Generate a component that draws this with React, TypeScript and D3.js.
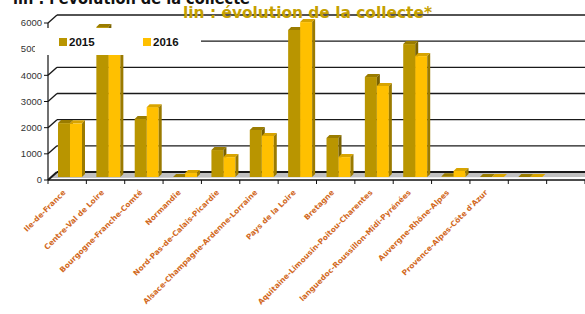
import * as d3 from 'd3'

// catégories (les deux dernières n'ont pas de libellé)
const regions = [
  'Ile-de-France',
  'Centre-Val de Loire',
  'Bourgogne-Franche-Comté',
  'Normandie',
  'Nord-Pas-de-Calais-Picardie',
  'Alsace-Champagne-Ardenne-Lorraine',
  'Pays de la Loire',
  'Bretagne',
  'Aquitaine-Limousin-Poitou-Charentes',
  'languedoc-Roussillon-Midi-Pyrénées',
  'Auvergne-Rhône-Alpes',
  "Provence-Alpes-Côte d'Azur",
  '',
  '',
]
const values2015 = [2060, 5730, 2220, 0, 1030, 1800, 5620, 1490, 3820, 5080, 30, 0, 0, null]
const values2016 = [2050, 5000, 2670, 150, 760, 1570, 5920, 760, 3480, 4620, 230, 0, 0, null]
const series = ['2015', '2016']
const yTicks = [0, 1000, 2000, 3000, 4000, 5000, 6000]

const W = 585
const H = 314
const DX = 9 // profondeur du mur du fond
const DY = 8
const D = 3 // profondeur des barres

const colors = {
  '2015': { front: '#b99500', top: '#9a7c00', side: '#7a6200' },
  '2016': { front: '#ffc000', top: '#d8a400', side: '#9a7a00' },
}

const wide = '"DejaVu Sans", Verdana, sans-serif'

const App = () => {
  const x = d3.scaleBand<number>().domain(d3.range(regions.length)).range([48, W])
  const inner = d3.scaleBand<string>().domain(series).range([10, 34])
  const y = d3.scaleLinear().domain([0, 6000]).range([180, 23])
  const x0 = 48
  const base = y(0) - 3

  const bar = (cat: number, s: string, v: number | null) => {
    if (v === null) return null
    const c = colors[s]
    const bx = (x(cat) as number) + (inner(s) as number)
    const w = inner.bandwidth()
    const top = y(v) - 3
    return (
      <g key={`${cat}-${s}`}>
        {v > 0 && <rect x={bx} y={top} width={w} height={base - top} fill={c.front} />}
        <polygon
          points={`${bx},${top} ${bx + D},${top - D} ${bx + w + D},${top - D} ${bx + w},${top}`}
          fill={c.top}
        />
        {v > 0 && (
          <polygon
            points={`${bx + w},${top} ${bx + w + D},${top - D} ${bx + w + D},${base - D} ${bx + w},${base}`}
            fill={c.side}
          />
        )}
      </g>
    )
  }

  return (
    <div style={{ position: 'fixed', left: 0, top: 0 }}>
      <svg width={W} height={H} style={{ display: 'block', fontFamily: 'Arial, "Liberation Sans", sans-serif' }}>
        <rect width={W} height={H} fill='#fff' />

        {/* sol */}
        <polygon points={`${x0 + 2},${y(0) - 2} ${x0 + DX},${y(0) - DY} ${W},${y(0) - DY} ${W},${base}`} fill='#c0c0c0' />

        {/* quadrillage du mur */}
        {yTicks.map(t => (
          <g key={t} stroke='#1a1a1a' strokeWidth={t === 0 ? 2 : 1.4} fill='none'>
            <line x1={x0} y1={y(t)} x2={x0 + DX} y2={y(t) - DY} />
            <line x1={x0 + DX} y1={y(t) - DY} x2={W} y2={y(t) - DY} />
          </g>
        ))}

        {/* barres */}
        {regions.map((_, i) => (
          <g key={i}>
            {bar(i, '2015', values2015[i])}
            {bar(i, '2016', values2016[i])}
          </g>
        ))}

        {/* axe y */}
        <line x1={x0} y1={y(6000)} x2={x0} y2={y(0)} stroke='#111' strokeWidth={1.2} />
        {yTicks.map(t => (
          <g key={t}>
            <line x1={x0 - 4} x2={x0} y1={y(t)} y2={y(t)} stroke='#111' />
            <text x={x0 - 6} y={y(t)} dy='0.35em' textAnchor='end' fontSize={9.5} fill='#333'>
              {t}
            </text>
          </g>
        ))}

        {/* axe x */}
        <line x1={x0} x2={W} y1={y(0)} y2={y(0)} stroke='#111' strokeWidth={1.5} />
        {d3.range(regions.length + 1).map(i => {
          const tx = x0 + i * x.bandwidth()
          return <line key={i} x1={tx} x2={tx} y1={y(0)} y2={y(0) + 4} stroke='#111' />
        })}
        {regions.map((r, i) => {
          const cx = (x(i) as number) + x.bandwidth() / 2
          return (
            <text
              key={i}
              transform={`translate(${cx - 1},${y(0) + 13}) rotate(-45)`}
              textAnchor='end'
              fontSize={7.5}
              fontWeight='bold'
              fontFamily={wide}
              fill='#d2691e'
            >
              {r}
            </text>
          )
        })}

        {/* légende */}
        <rect x={35} y={28} width={166} height={27} fill='#fff' />
        {series.map((s, i) => (
          <g key={s} transform={`translate(${59 + i * 84},38)`}>
            <rect width={8} height={8} fill={colors[s].front} />
            <text x={10} y={8} fontSize={11.5} fontWeight='bold' fill='#111'>
              {s}
            </text>
          </g>
        ))}

        {/* titres */}
        <text x={13} y={4} fontSize={15} fontWeight='bold' fontFamily={wide} fill='#111' textLength={237} lengthAdjust='spacingAndGlyphs'>
          lin : l'évolution de la collecte
        </text>
        <text x={183} y={18} fontSize={15} fontWeight='bold' fontFamily={wide} fill='#c5a000' textLength={249} lengthAdjust='spacingAndGlyphs'>
          lin : évolution de la collecte*
        </text>
      </svg>
    </div>
  )
}

export default App
